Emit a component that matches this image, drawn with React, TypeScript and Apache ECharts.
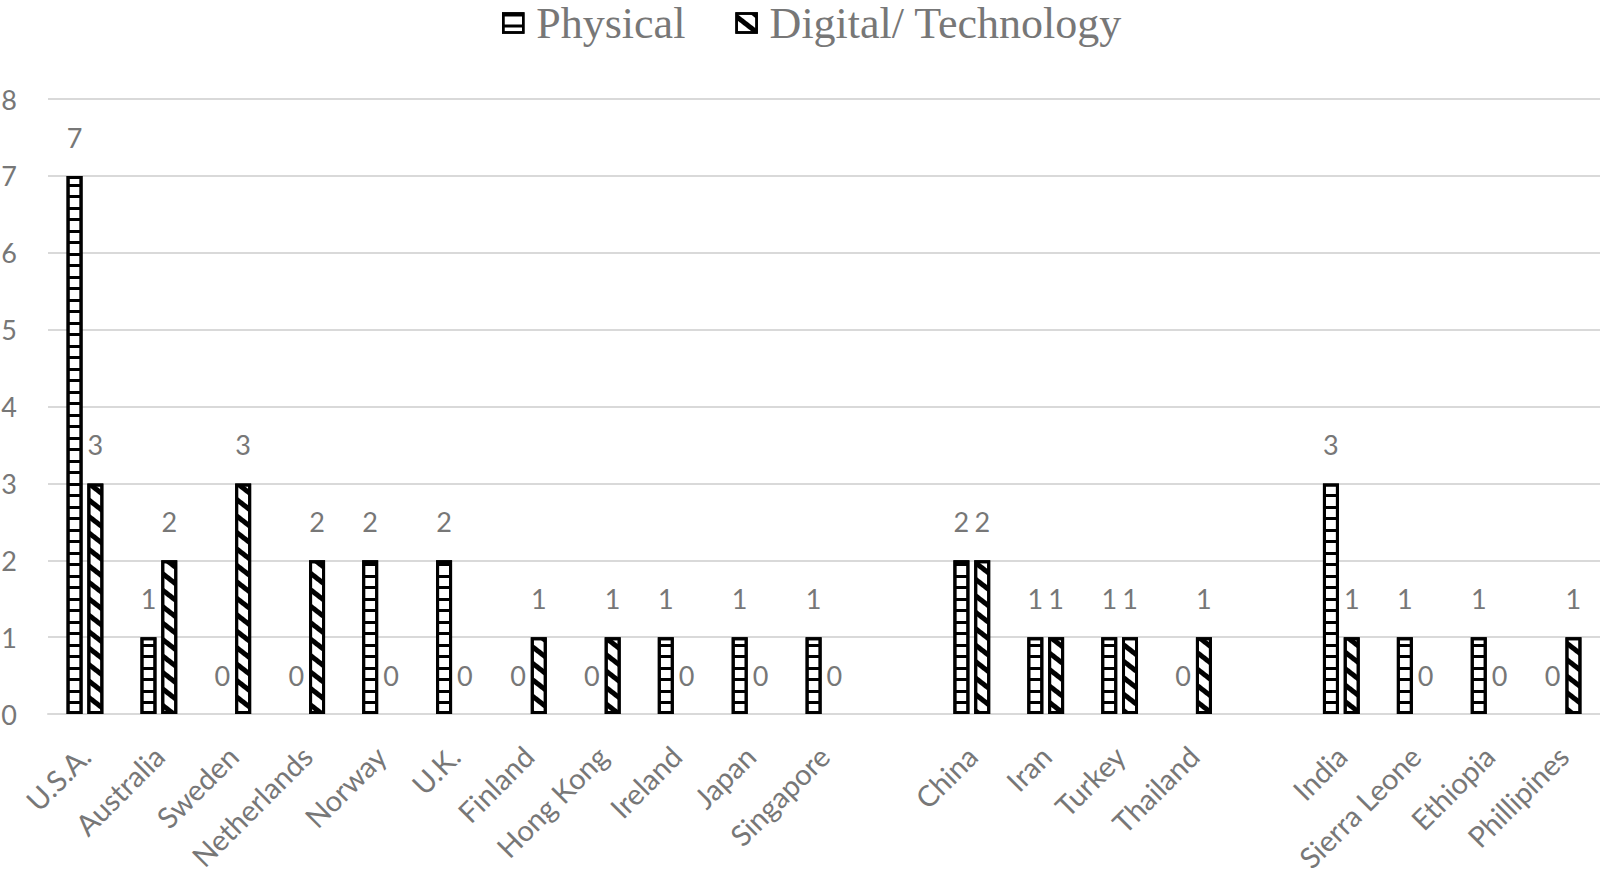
import React, { useEffect, useRef } from "react";
import * as echarts from "echarts";

const categories = [
  "U.S.A.", "Australia", "Sweden", "Netherlands", "Norway", "U.K.", "Finland",
  "Hong Kong", "Ireland", "Japan", "Singapore", " ",
  "China", "Iran", "Turkey", "Thailand", "  ",
  "India", "Sierra Leone", "Ethiopia", "Phillipines",
];
const physical = [7, 1, 0, 0, 2, 2, 0, 0, 1, 1, 1, null, 2, 1, 1, 0, null, 3, 1, 1, 0];
const digital = [3, 2, 3, 2, 0, 0, 1, 1, 0, 0, 0, null, 2, 1, 1, 1, null, 1, 0, 0, 1];
const seriesNames = ["Physical", "Digital/ Technology"];
const yMin = 0;
const yMax = 8;
const yStep = 1;

const GRAY = "#777777";
const SANS = "Lato, 'Open Sans', sans-serif";
const SERIF = "'Liberation Serif', 'Times New Roman', serif";

function toData(arr: (number | null)[]) {
  return arr.map((v) =>
    v === null ? "-" : v === 0 ? { value: 0, itemStyle: { borderWidth: 0 } } : v
  );
}

export default function App() {
  const ref = useRef<HTMLDivElement>(null);
  useEffect(() => {
    if (!ref.current) return;
    const chart = echarts.init(ref.current, null, { renderer: "svg" });
    const barBase = {
      type: "bar" as const,
      barWidth: 16,
      barGap: "30%",
      label: {
        show: true,
        position: "top" as const,
        distance: 25,
        color: GRAY,
        fontSize: 27,
        fontFamily: SANS,
      },
    };
    chart.setOption({
      animation: false,
      backgroundColor: "#ffffff",
      legend: {
        left: 502,
        top: 1,
        padding: 0,
        icon: "rect",
        itemWidth: 20,
        itemHeight: 19,
        itemGap: 50,
        textStyle: {
          fontFamily: SERIF,
          fontSize: 44,
          lineHeight: 44,
          color: GRAY,
          padding: [0, 0, 0, 8],
        },
        itemStyle: { borderColor: "#000", borderWidth: 2.5 },
        data: seriesNames,
      },
      grid: {
        left: 48,
        right: 0,
        top: 99,
        bottom: 162,
        containLabel: false,
        outerBoundsMode: "none",
      },
      xAxis: {
        type: "category",
        data: categories,
        axisLine: { show: true, lineStyle: { color: "#d9d9d9", width: 2 } },
        axisTick: { show: false },
        axisLabel: {
          interval: 0,
          rotate: 45,
          margin: 37,
          color: GRAY,
          fontSize: 29,
          fontFamily: SANS,
        },
      },
      yAxis: {
        type: "value",
        min: yMin,
        max: yMax,
        interval: yStep,
        axisLine: { show: false },
        axisTick: { show: false },
        splitLine: { lineStyle: { color: "#d9d9d9", width: 2 } },
        axisLabel: {
          margin: 31,
          color: GRAY,
          fontSize: 27,
          fontFamily: SANS,
        },
      },
      series: [
        {
          ...barBase,
          name: seriesNames[0],
          data: toData(physical),
          itemStyle: {
            color: "#ffffff",
            borderColor: "#000000",
            borderWidth: 3,
            decal: {
              symbol: "rect",
              symbolSize: 1,
              color: "#000000",
              dashArrayX: [20, 0],
              dashArrayY: [3, 8, 3, 9],
              rotation: 0,
            },
          },
        },
        {
          ...barBase,
          name: seriesNames[1],
          data: toData(digital),
          itemStyle: {
            color: "#ffffff",
            borderColor: "#000000",
            borderWidth: 3,
            decal: {
              symbol: "rect",
              symbolSize: 1,
              color: "#000000",
              dashArrayX: [20, 0],
              dashArrayY: [5, 8],
              rotation: 0.66,
            },
          },
        },
      ],
    });
    return () => chart.dispose();
  }, []);
  return (
    <div
      ref={ref}
      style={{ position: "fixed", left: 0, top: 0, width: 1600, height: 876 }}
    />
  );
}
